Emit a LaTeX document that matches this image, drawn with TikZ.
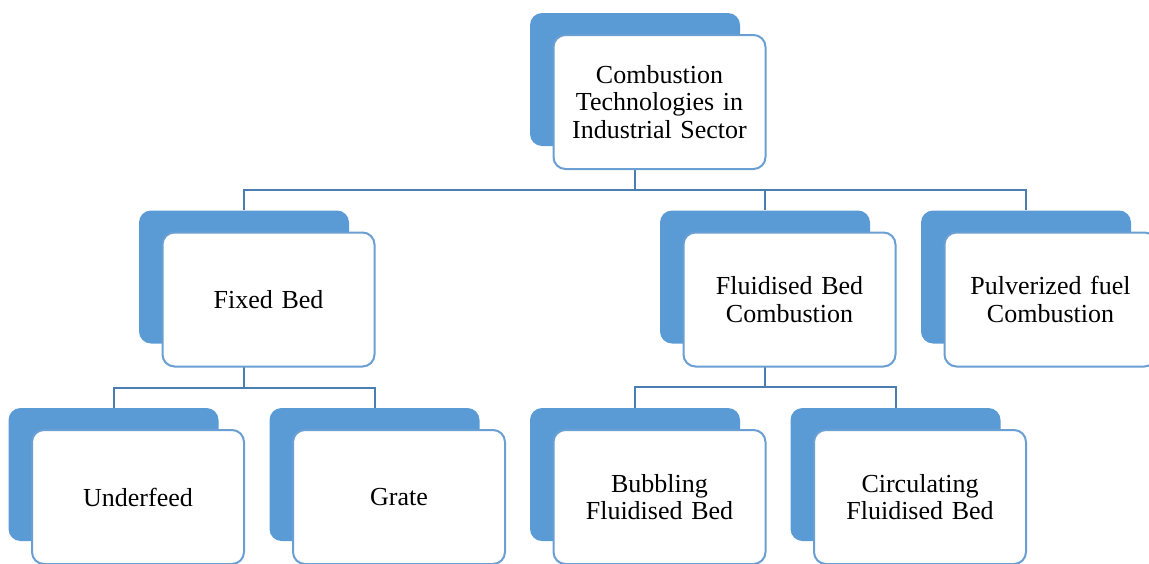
\documentclass[tikz,border=0pt]{standalone}
\usepackage{fontspec}
\setmainfont{Liberation Serif}
\usetikzlibrary{calc}
\definecolor{backblue}{HTML}{5B9BD5}
\definecolor{edgeblue}{HTML}{6A9FD3}
\definecolor{linkblue}{HTML}{4A7EB0}
\tikzset{
  backbox/.style={rectangle, rounded corners=12pt, fill=backblue, draw=none,
    minimum width=210pt, minimum height=133pt, inner sep=0pt},
  frontbox/.style={rectangle, rounded corners=12pt, fill=white, draw=edgeblue,
    line width=2pt, minimum width=212pt, minimum height=134pt, inner sep=0pt,
    align=center, text width=205pt,
    font=\fontsize{26}{27.5}\selectfont},
  link/.style={draw=linkblue, line width=2pt},
}
\begin{document}
\begin{tikzpicture}[x=1pt, y=-1pt]
\useasboundingbox (0,0) rectangle (1149,563);

% bus levels
\coordinate (busA) at (0,190);
\coordinate (busB) at (0,388);
\coordinate (busC) at (0,387);

% back plates
\node[backbox] (topb) at (635,79.5) {};
\node[backbox] (fixb) at (244,277) {};
\node[backbox] (flub) at (765,277) {};
\node[backbox] (pulb) at (1026,277) {};
\node[backbox] (undb) at (113.5,474.5) {};
\node[backbox] (grab) at (374.5,474.5) {};
\node[backbox] (bubb) at (635,474.5) {};
\node[backbox] (cirb) at (895.5,474.5) {};

% connectors
\draw[link] (topb.south) -- (topb.south |- busA) -| (fixb.north);
\draw[link] (topb.south |- busA) -| (flub.north);
\draw[link] (topb.south |- busA) -| (pulb.north);
\draw[link] (fixb.south) -- (fixb.south |- busB) -| (undb.north);
\draw[link] (fixb.south |- busB) -| (grab.north);
\draw[link] (flub.south) -- (flub.south |- busC) -| (bubb.north);
\draw[link] (flub.south |- busC) -| (cirb.north);

% front cards
\node[frontbox] (top) at ($(topb)+(24.5,22.5)$) {Combustion\\Technologies in\\Industrial Sector};
\node[frontbox] (fix) at ($(fixb)+(24.5,22.5)$) {Fixed Bed};
\node[frontbox] (flu) at ($(flub)+(24.5,22.5)$) {Fluidised Bed\\Combustion};
\node[frontbox] (pul) at ($(pulb)+(24.5,22.5)$) {Pulverized fuel\\Combustion};
\node[frontbox] (und) at ($(undb)+(24.5,22.5)$) {Underfeed};
\node[frontbox] (gra) at ($(grab)+(24.5,22.5)$) {Grate};
\node[frontbox] (bub) at ($(bubb)+(24.5,22.5)$) {Bubbling\\Fluidised Bed};
\node[frontbox] (cir) at ($(cirb)+(24.5,22.5)$) {Circulating\\Fluidised Bed};
\end{tikzpicture}
\end{document}
